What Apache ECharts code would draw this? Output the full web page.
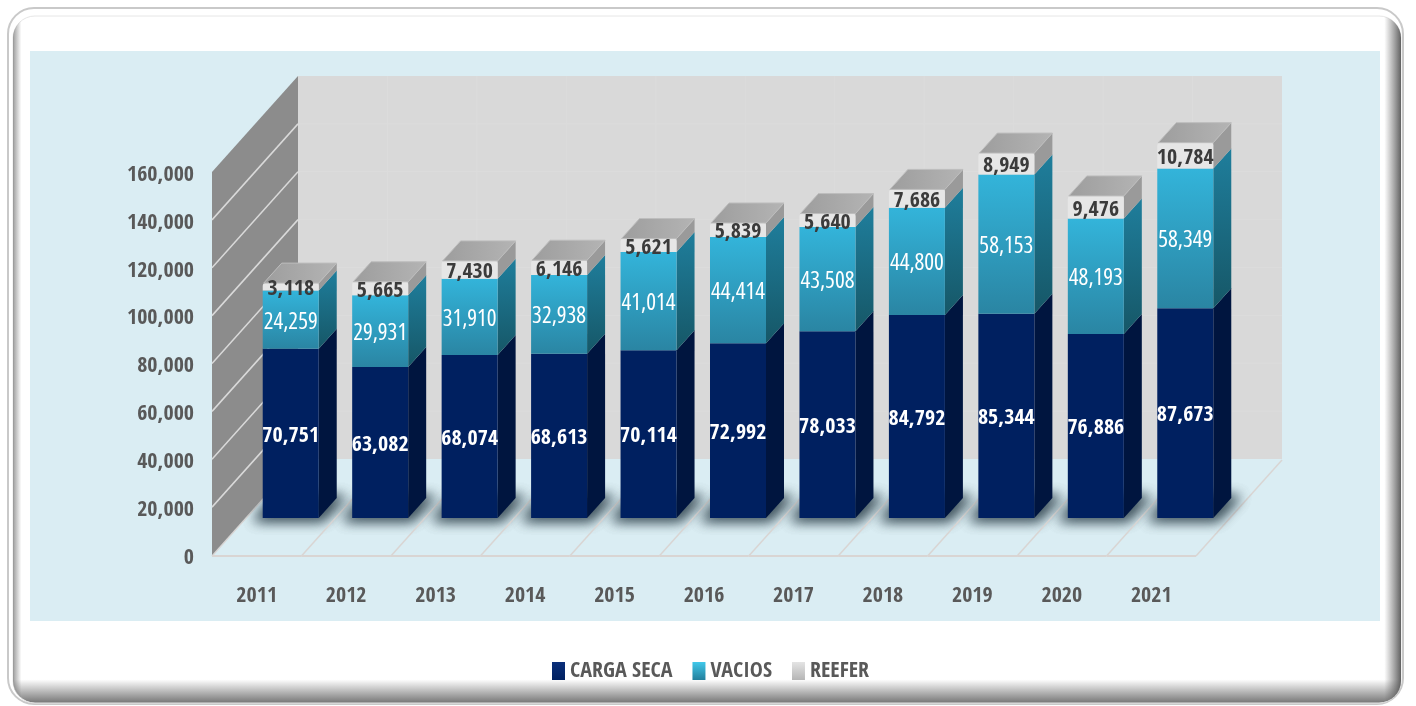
<!DOCTYPE html>
<html>
<head>
<meta charset="utf-8">
<title>Carga</title>
<style>
  html, body { margin: 0; padding: 0; background: #fff; }
  #main { width: 1416px; height: 706px; }
</style>
<script src="https://cdn.jsdelivr.net/npm/echarts@6/dist/echarts.min.js"></script>
</head>
<body>
<div id="main"></div>
<script>
  var categories = ['2011', '2012', '2013', '2014', '2015', '2016', '2017', '2018', '2019', '2020', '2021'];
  var cargaSeca = [70751, 63082, 68074, 68613, 70114, 72992, 78033, 84792, 85344, 76886, 87673];
  var vacios = [24259, 29931, 31910, 32938, 41014, 44414, 43508, 44800, 58153, 48193, 58349];
  var reefer = [3118, 5665, 7430, 6146, 5621, 5839, 5640, 7686, 8949, 9476, 10784];
  var yTicks = [0, 20000, 40000, 60000, 80000, 100000, 120000, 140000, 160000];

  var labelFont = '"Open Sans Condensed", "Open Sans", sans-serif';
  // profundidad del cubo, pared y posicion de las barras
  var wallDx = 86, wallDy = -96;
  var barDx = 34, barDy = -37, barW = 56, depthX = 18, depthY = -20;
  var shadowShift = 3000;

  var chart = echarts.init(document.getElementById('main'));

  function vGrad(top, bottom) {
    return new echarts.graphic.LinearGradient(0, 0, 0, 1, [
      { offset: 0, color: top }, { offset: 1, color: bottom }
    ]);
  }
  function hGrad(left, right) {
    return new echarts.graphic.LinearGradient(0, 0, 1, 0, [
      { offset: 0, color: left }, { offset: 1, color: right }
    ]);
  }

  function floorItem(params, api) {
    var i = api.value(0);
    var c = api.coord([i, 0]);
    var band = api.size([1, 0])[0];
    var lx = c[0] - band / 2;
    var children = [];
    children.push({
      type: 'line',
      shape: { x1: lx, y1: c[1] + 1, x2: lx + wallDx, y2: c[1] + 1 + wallDy },
      style: { stroke: '#d9d5d3', lineWidth: 1.5 }
    });
    if (i === categories.length - 1) {
      children.push({
        type: 'line',
        shape: { x1: lx + band, y1: c[1] + 1, x2: lx + band + wallDx, y2: c[1] + 1 + wallDy },
        style: { stroke: '#d9d5d3', lineWidth: 1.5 }
      });
    }
    children.push({
      type: 'line',
      shape: { x1: lx, y1: c[1] + 1, x2: lx + band, y2: c[1] + 1 },
      style: { stroke: '#d9d5d3', lineWidth: 2 }
    });
    // sombra debajo de la barra: la forma queda fuera de pantalla, solo se ve el blur
    var x = c[0] + barDx - barW / 2 - shadowShift, y = c[1] + barDy;
    for (var n = 0; n < 2; n++) {
      children.push({
        type: 'polygon',
        shape: { points: [
          [x - 10, y + 3], [x + barW + 4, y + 3],
          [x + barW + depthX + 10, y + depthY - 2], [x + depthX - 6, y + depthY - 2]
        ] },
        style: { fill: '#000', shadowBlur: 13, shadowColor: 'rgba(55,75,85,0.75)', shadowOffsetX: shadowShift }
      });
    }
    return { type: 'group', children: children };
  }

  function wallItem(params, api) {
    var v = api.value(1);
    var c0 = api.coord([0, v]);
    var left = c0[0] - api.size([1, 0])[0] / 2;
    var y = c0[1];
    var children = [];
    if (params.dataIndex === 0) {
      var top = api.coord([0, yTicks[yTicks.length - 1]])[1];
      var band = api.size([1, 0])[0];
      var right = left + band * categories.length;
      children.push({
        type: 'rect',
        shape: { x: left + wallDx, y: top + wallDy, width: right - left, height: y - top },
        style: { fill: '#d9d9d9' }
      });
      for (var k = 1; k < categories.length; k++) {
        children.push({
          type: 'line',
          shape: { x1: left + wallDx + band * k, y1: top + wallDy, x2: left + wallDx + band * k, y2: y + wallDy },
          style: { stroke: '#dcdcdc', lineWidth: 1 }
        });
      }
      children.push({
        type: 'polygon',
        shape: { points: [[left, y], [left + wallDx, y + wallDy], [left + wallDx, top + wallDy], [left, top]] },
        style: { fill: '#8c8c8c' }
      });
    }
    if (v > 0 && v < yTicks[yTicks.length - 1]) {
      children.push({
        type: 'line',
        shape: { x1: left, y1: y, x2: left + wallDx, y2: y + wallDy },
        style: { stroke: '#d9d9d9', lineWidth: 1.5 }
      });
      children.push({
        type: 'line',
        shape: { x1: left + wallDx, y1: y + wallDy, x2: left + wallDx + api.size([1, 0])[0] * categories.length, y2: y + wallDy },
        style: { stroke: '#dcdcdc', lineWidth: 1 }
      });
    }
    return { type: 'group', children: children };
  }

  function segmentRenderer(look) {
    return function (params, api) {
      var i = api.value(0);
      var a = api.coord([i, api.value(1)]);
      var b = api.coord([i, api.value(2)]);
      var x = a[0] + barDx - barW / 2;
      var yBottom = a[1] + barDy, yTop = b[1] + barDy;
      var children = [];
      children.push({
        type: 'polygon',
        shape: { points: [
          [x + barW, yBottom], [x + barW + depthX, yBottom + depthY],
          [x + barW + depthX, yTop + depthY], [x + barW, yTop]
        ] },
        style: { fill: look.side }
      });
      children.push({
        type: 'rect',
        shape: { x: x, y: yTop, width: barW, height: yBottom - yTop, r: look.r || 0 },
        style: { fill: look.front }
      });
      if (look.cap) {
        children.push({
          type: 'polygon',
          shape: { points: [
            [x + 1, yTop], [x + barW, yTop],
            [x + barW + depthX, yTop + depthY], [x + depthX + 1, yTop + depthY]
          ] },
          style: { fill: hGrad('#9d9d9d', '#b4b4b4'), stroke: '#bdbdbd', lineWidth: 1, lineJoin: 'round' }
        });
      }
      children.push({
        type: 'text',
        z2: 10,
        style: {
          text: echarts.format.addCommas(api.value(2) - api.value(1)),
          x: x + barW / 2,
          y: (yTop + yBottom) / 2 + 2.5,
          align: 'center',
          verticalAlign: 'middle',
          fill: look.text,
          font: look.font
        }
      });
      return { type: 'group', children: children };
    };
  }

  function stacked(index) {
    var rows = [];
    for (var i = 0; i < categories.length; i++) {
      var start = 0;
      if (index > 0) start += cargaSeca[i];
      if (index > 1) start += vacios[i];
      var v = [cargaSeca, vacios, reefer][index][i];
      rows.push([i, start, start + v]);
    }
    return rows;
  }

  var navyLook = { front: '#002060', side: '#00153f', text: '#ffffff', font: 'bold 22px ' + labelFont };
  var cyanLook = { front: vGrad('#33b4da', '#2a85a3'), side: vGrad('#1f7e9c', '#165767'), text: '#ffffff', font: 'condensed normal 23px "Open Sans"' };
  var reeferLook = { front: '#e6e6e6', side: '#9a9a9a', text: '#3b3b3b', font: 'bold 22px ' + labelFont, cap: true, r: [3, 3, 0, 0] };

  chart.setOption({
    animation: false,
    backgroundColor: '#ffffff',
    graphic: [
      { type: 'rect', z: -10, shape: { x: 8, y: 8, width: 1395, height: 696, r: 26 },
        style: { fill: '#fff', stroke: '#c9c9c9', lineWidth: 2 } },
      { type: 'rect', z: -9, shape: { x: 13, y: 16, width: 1388, height: 687, r: 22 },
        style: { stroke: '#e6e6e6', lineWidth: 1, fill: new echarts.graphic.LinearGradient(0, 0, 0, 1, [
          { offset: 0, color: 'rgba(90,90,90,0)' }, { offset: 0.965, color: 'rgba(90,90,90,0)' }, { offset: 1, color: 'rgba(90,90,90,0.85)' }
        ]) } },
      { type: 'rect', z: -9, shape: { x: 13, y: 16, width: 1388, height: 687, r: 22 },
        style: { fill: new echarts.graphic.LinearGradient(0, 0, 1, 0, [
          { offset: 0, color: 'rgba(90,90,90,0.6)' }, { offset: 0.006, color: 'rgba(90,90,90,0)' },
          { offset: 0.988, color: 'rgba(90,90,90,0)' }, { offset: 1, color: 'rgba(70,70,70,0.85)' }
        ]) } },
      { type: 'rect', z: -8, shape: { x: 30, y: 51, width: 1350, height: 570 }, style: { fill: '#daedf3' } }
    ],
    legend: {
      left: 552,
      top: 660,
      padding: 0,
      itemWidth: 13,
      itemHeight: 18,
      itemGap: 20,
      selectedMode: false,
      textStyle: { color: '#595959', fontSize: 22, fontWeight: 'bold', fontFamily: labelFont },
      data: [
        { name: 'CARGA SECA', icon: 'rect', itemStyle: { color: vGrad('#0b2f7a', '#002060') } },
        { name: 'VACIOS', icon: 'rect', itemStyle: { color: vGrad('#40c8ea', '#237f9c') } },
        { name: 'REEFER', icon: 'rect', itemStyle: { color: vGrad('#e4e4e4', '#b5b5b5') } }
      ]
    },
    grid: { left: 212, right: 220, top: 172, bottom: 151, containLabel: false },
    xAxis: {
      type: 'category',
      data: categories,
      axisLine: { show: false },
      axisTick: { show: false },
      axisLabel: { color: '#595959', fontSize: 22, fontWeight: 'bold', fontFamily: labelFont, margin: 30 }
    },
    yAxis: {
      type: 'value',
      min: 0,
      max: 160000,
      interval: 20000,
      axisLine: { show: false },
      axisTick: { show: false },
      splitLine: { show: false },
      axisLabel: {
        color: '#595959', fontSize: 22, fontWeight: 'bold', fontFamily: labelFont, margin: 18,
        verticalAlign: 'top', padding: [-8, 0, 0, 0],
        formatter: function (v) { return echarts.format.addCommas(v); }
      }
    },
    series: [
      { type: 'custom', name: 'piso', silent: true, z: 1, renderItem: floorItem, encode: { x: 0, y: 1 },
        data: categories.map(function (c, i) { return [i, 0]; }) },
      { type: 'custom', name: 'pared', silent: true, z: 2, renderItem: wallItem, encode: { x: 0, y: 1 },
        data: yTicks.map(function (t) { return [0, t]; }) },
      { type: 'custom', name: 'CARGA SECA', z: 3, renderItem: segmentRenderer(navyLook), encode: { x: 0, y: [1, 2] },
        itemStyle: { color: '#002060' }, data: stacked(0) },
      { type: 'custom', name: 'VACIOS', z: 4, renderItem: segmentRenderer(cyanLook), encode: { x: 0, y: [1, 2] },
        itemStyle: { color: '#33b4da' }, data: stacked(1) },
      { type: 'custom', name: 'REEFER', z: 5, renderItem: segmentRenderer(reeferLook), encode: { x: 0, y: [1, 2] },
        itemStyle: { color: '#e6e6e6' }, data: stacked(2) }
    ]
  });
</script>
</body>
</html>
